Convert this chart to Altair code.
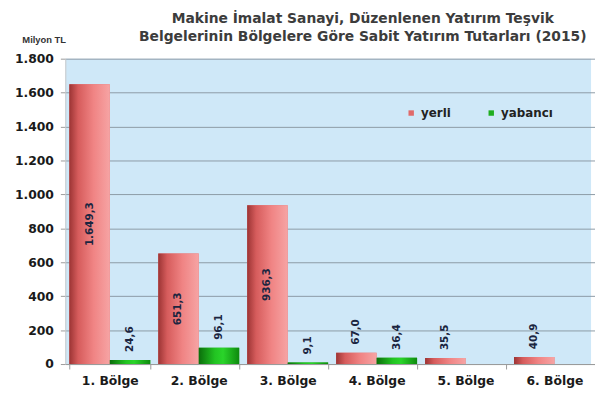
import altair as alt
import pandas as pd

# ---- data ----
regions = ["1. Bölge", "2. Bölge", "3. Bölge", "4. Bölge", "5. Bölge", "6. Bölge"]
series = ["yerli", "yabancı"]
yerli = [1649.3, 651.3, 936.3, 67.0, 35.5, 40.9]
yabanci = [24.6, 96.1, 9.1, 36.4, None, None]
y_ticks = [0, 200, 400, 600, 800, 1000, 1200, 1400, 1600, 1800]
title_lines = ["Makine İmalat Sanayi, Düzenlenen Yatırım Teşvik",
               "Belgelerinin Bölgelere Göre Sabit Yatırım Tutarları (2015)"]
y_title = "Milyon TL"


def tr_fmt(v):
    s = f"{v:,.1f}"
    return s.replace(",", "#").replace(".", ",").replace("#", ".")


rows = []
for r, a, b in zip(regions, yerli, yabanci):
    for s, v in (("yerli", a), ("yabancı", b)):
        if v is not None:
            rows.append({"region": r, "series": s, "value": v, "label": tr_fmt(v)})
df = pd.DataFrame(rows)

FONT = "DejaVu Sans"

x_enc = alt.X("region:N", sort=regions,
              scale=alt.Scale(domain=regions, range=[0, 540], paddingInner=0.09, paddingOuter=0.045),
              axis=alt.Axis(title=None, labelAngle=0, labelFont=FONT, labelFontWeight="bold",
                            labelFontSize=12.5, labelColor="#1a1a1a", labelPadding=6,
                            tickBand="extent", tickSize=5, tickColor="#9a9a9a",
                            domainColor="#9a9a9a", grid=False))
xo_enc = alt.XOffset("series:N", scale=alt.Scale(domain=series, paddingInner=0, paddingOuter=0))

y_scale = alt.Scale(domain=[0, 1800], nice=False)
y_axis = alt.Axis(values=y_ticks, title=y_title, labelOverlap=False,
                  labelExpr="replace(format(datum.value, ','), ',', '.')",
                  labelFont=FONT, labelFontWeight="bold", labelFontSize=12.5,
                  labelColor="#1a1a1a", labelPadding=7, tickSize=5, tickColor="#9a9a9a",
                  domainColor="#c8c8c8", gridColor="#8c9aa6", gridWidth=1,
                  titleAngle=0, titleX=-44, titleY=-16, titleAlign="left",
                  titleBaseline="alphabetic", titleFont="Liberation Sans", titleFontWeight="bold",
                  titleFontSize=9.5, titleColor="#333333")
y_enc = alt.Y("value:Q", scale=y_scale, axis=y_axis)

base = alt.Chart(df)

bars = base.mark_bar().encode(
    x=x_enc, xOffset=xo_enc, y=y_enc,
    color=alt.Color("series:N", scale=alt.Scale(domain=series, range=["#e06a6a", "#1fae1f"]),
                    title=None,
                    legend=alt.Legend(orient="none", legendX=344, legendY=49, direction="horizontal",
                                      symbolType="square", symbolSize=30, symbolStrokeWidth=0,
                                      labelFont=FONT, labelFontWeight="bold", labelFontSize=12,
                                      labelColor="#222222", columnPadding=34, labelOffset=4)),
)

red_grad = alt.Gradient(gradient="linear", x1=0, x2=1, y1=0, y2=0, stops=[
    alt.GradientStop(color="#9c3434", offset=0),
    alt.GradientStop(color="#d65c5c", offset=0.22),
    alt.GradientStop(color="#f08484", offset=0.6),
    alt.GradientStop(color="#f6a4a4", offset=1)])
green_grad = alt.Gradient(gradient="linear", x1=0, x2=1, y1=0, y2=0, stops=[
    alt.GradientStop(color="#0b6e0b", offset=0),
    alt.GradientStop(color="#22c422", offset=0.4),
    alt.GradientStop(color="#2ad42a", offset=0.6),
    alt.GradientStop(color="#0e8a0e", offset=1)])

yerli_bars = base.transform_filter("datum.series == 'yerli'").mark_bar(fill=red_grad).encode(
    x=x_enc, xOffset=xo_enc, y=y_enc)
yab_bars = base.transform_filter("datum.series == 'yabancı'").mark_bar(fill=green_grad).encode(
    x=x_enc, xOffset=xo_enc, y=y_enc)

lab_in = base.transform_filter("datum.value >= 300").transform_calculate(
    mid="datum.value / 2").mark_text(
    angle=270, align="center", baseline="middle", font=FONT, fontWeight="bold",
    fontSize=10.5, color="#1b2540").encode(
    x=x_enc, xOffset=xo_enc, y=alt.Y("mid:Q", scale=y_scale, axis=y_axis), text="label:N")

lab_out = base.transform_filter("datum.value < 300").mark_text(
    angle=270, align="left", baseline="middle", dx=8, font=FONT, fontWeight="bold",
    fontSize=10.5, color="#1b2540").encode(
    x=x_enc, xOffset=xo_enc, y=y_enc, text="label:N")

chart = alt.layer(bars, yerli_bars, yab_bars, lab_in, lab_out).properties(
    width=532, height=309,
    autosize=alt.AutoSizeParams(type="none"),
    padding={"left": 58, "top": 49, "right": 4, "bottom": 27},
    title=alt.TitleParams(text=title_lines, font=FONT, fontWeight="bold", fontSize=14,
                          lineHeight=18, color="#3c3c3c", anchor="middle", dx=35, dy=35,
                          baseline="bottom", offset=12),
    background="white",
).configure_view(fill="#cfe8f8", strokeWidth=0)

chart.save("out.html", embed_options={"renderer": "svg", "actions": False})
